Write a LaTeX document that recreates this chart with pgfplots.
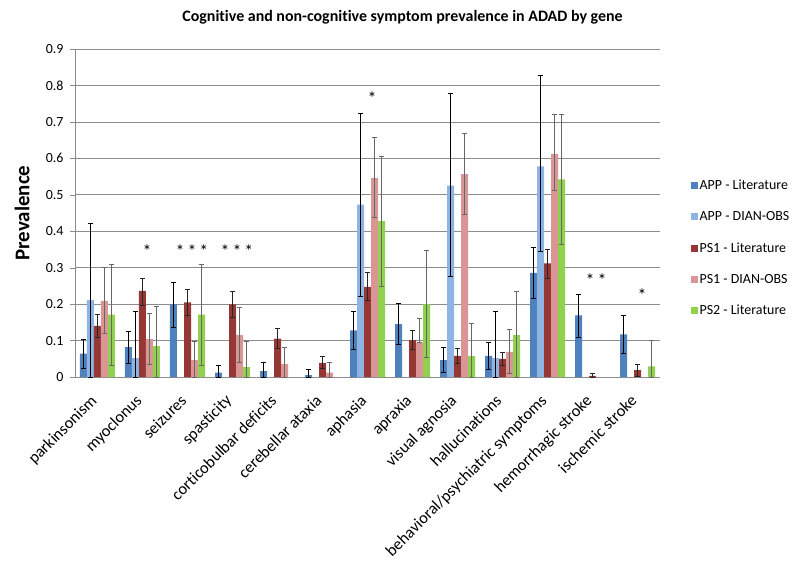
\documentclass[border=0pt]{standalone}
\usepackage{pgfplots}
\pgfplotsset{compat=1.18}
\usepackage{fontspec}
\setmainfont{Carlito}[Ligatures=NoCommon]
\definecolor{appL}{HTML}{4F81BD}
\definecolor{appD}{HTML}{8EB4E3}
\definecolor{psL}{HTML}{953735}
\definecolor{psD}{HTML}{DA9694}
\definecolor{ps2}{HTML}{92D050}
\definecolor{gridc}{HTML}{8C8C8C}
\begin{document}
\begin{tikzpicture}
\path[use as bounding box] (-75bp,-188bp) rectangle (725bp,377bp);
\begin{axis}[
  at={(0,0)}, anchor=south west,
  scale only axis, width=585bp, height=328bp,
  xmin=-0.5, xmax=12.5, ymin=0, ymax=0.9,
  ybar=0pt, bar width=7bp,
  axis x line*=bottom, axis y line*=left,
  axis line style={gridc, -},
  ymajorgrids, grid style={gridc, line width=0.6pt},
  ytick={0,0.1,...,0.9},
  yticklabel style={/pgf/number format/fixed, /pgf/number format/precision=1, font=\fontsize{14}{16}\selectfont, xshift=-3bp},
  /pgf/number format/assume math mode=true,
  tick align=outside, major tick length=5bp, tick style={gridc},
  xtick={0,...,12}, x tick style={draw=none},
  xticklabels={parkinsonism, myoclonus, seizures, spasticity, corticobulbar deficits, cerebellar ataxia, aphasia, apraxia, visual agnosia, hallucinations, behavioral/psychiatric symptoms, hemorrhagic stroke, ischemic stroke},
  xticklabel style={xshift=-8bp, yshift=-10bp, rotate=45, anchor=north east, font=\fontsize{16.5}{18}\selectfont, inner sep=1bp},
  ylabel={\bfseries Prevalence},
  ylabel style={at={(axis description cs:-0.0906,0.5)}, anchor=center, font=\fontsize{21}{24}\selectfont},
  title={\bfseries Cognitive and non-cognitive symptom prevalence in ADAD by gene},
  title style={at={(axis description cs:0.5,1)}, yshift=26bp, xshift=35bp, anchor=center, font=\fontsize{16}{19}\selectfont},
  legend style={at={(axis description cs:1.052,0.393)}, anchor=west, draw=none, fill=none,
    font=\fontsize{14}{16}\selectfont, row sep=16.5bp, inner sep=0pt},
  legend cell align=left,
  legend image code/.code={\fill[#1] (0bp,-3.5bp) rectangle (7bp,3.5bp);},
  error bars/y dir=both, error bars/y explicit,
  error bars/error mark options={rotate=90, mark size=2.6bp, line width=0.7pt},
  error bars/error bar style={line width=0.7pt},
]
% APP - Literature
\addplot[fill=appL, draw=none, error bars/error bar style={black}, error bars/error mark options={rotate=90, mark size=2.6bp, line width=0.7pt, black}]
  table[x=x, y=y, y error plus=ep, y error minus=em] {
x y ep em
0 0.064 0.040 0.039
1 0.082 0.044 0.044
2 0.199 0.062 0.063
3 0.012 0.019 0.012
4 0.016 0.023 0.016
5 0.005 0.015 0.005
6 0.128 0.053 0.053
7 0.145 0.057 0.056
8 0.046 0.035 0.034
9 0.058 0.038 0.038
10 0.286 0.071 0.071
11 0.169 0.059 0.059
12 0.117 0.051 0.052
};
% APP - DIAN-OBS
\addplot[fill=appD, draw=none, error bars/error bar style={black}, error bars/error mark options={rotate=90, mark size=2.6bp, line width=0.7pt, black}]
  table[x=x, y=y, y error plus=ep, y error minus=em] {
x y ep em
0 0.211 0.210 0.211
1 0.052 0.128 0.052
6 0.473 0.251 0.251
8 0.525 0.252 0.250
9 0.052 0.127 0.052
10 0.578 0.250 0.234
};
% PS1 - Literature
\addplot[fill=psL, draw=none, error bars/error bar style={black!85}, error bars/error mark options={rotate=90, mark size=2.6bp, line width=0.7pt, black!85}]
  table[x=x, y=y, y error plus=ep, y error minus=em] {
x y ep em
0 0.140 0.031 0.030
1 0.236 0.036 0.039
2 0.205 0.036 0.035
3 0.199 0.037 0.036
4 0.105 0.028 0.027
5 0.039 0.019 0.016
6 0.247 0.039 0.038
7 0.101 0.027 0.026
8 0.058 0.020 0.021
9 0.050 0.019 0.018
10 0.312 0.039 0.040
11 0.003 0.006 0.003
12 0.019 0.016 0.016
};
% PS1 - DIAN-OBS
\addplot[fill=psD, draw=none, error bars/error bar style={black!60}, error bars/error mark options={rotate=90, mark size=2.6bp, line width=0.7pt, black!60}]
  table[x=x, y=y, y error plus=ep, y error minus=em] {
x y ep em
0 0.208 0.092 0.087
1 0.104 0.070 0.069
2 0.046 0.052 0.046
3 0.115 0.075 0.074
4 0.035 0.045 0.035
5 0.012 0.027 0.012
6 0.546 0.111 0.107
7 0.094 0.066 0.000
8 0.557 0.111 0.110
9 0.069 0.061 0.060
10 0.612 0.109 0.101
};
% PS2 - Literature
\addplot[fill=ps2, draw=none, error bars/error bar style={black!60}, error bars/error mark options={rotate=90, mark size=2.6bp, line width=0.7pt, black!60}]
  table[x=x, y=y, y error plus=ep, y error minus=em] {
x y ep em
0 0.171 0.139 0.139
1 0.085 0.108 0.085
2 0.171 0.139 0.139
3 0.027 0.071 0.027
6 0.428 0.178 0.179
7 0.200 0.147 0.145
8 0.057 0.091 0.057
9 0.115 0.119 0.115
10 0.542 0.179 0.179
12 0.029 0.072 0.029
};
\legend{APP - Literature, APP - DIAN-OBS, PS1 - Literature, PS1 - DIAN-OBS, PS2 - Literature}
\begin{scope}[every node/.style={font=\fontsize{18}{18}\selectfont}]
\node at (axis cs:1.1,0.345) {*};
\node at (axis cs:2.1,0.345) {*\,*\,*};
\node at (axis cs:3.1,0.345) {*\,*\,*};
\node at (axis cs:6.1,0.765) {*};
\node at (axis cs:11.08,0.265) {*\,*};
\node at (axis cs:12.1,0.225) {*};
\end{scope}
\end{axis}
\end{tikzpicture}
\end{document}
